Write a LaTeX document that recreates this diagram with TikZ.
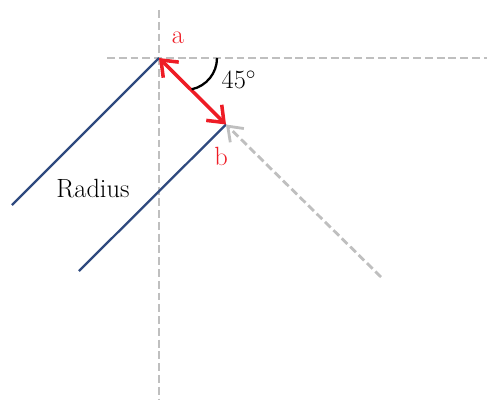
\documentclass[tikz,border=0pt]{standalone}
\usetikzlibrary{arrows.meta}
\definecolor{radblue}{HTML}{2F4A7F}
\definecolor{markred}{HTML}{EE1C25}
\definecolor{guidegray}{HTML}{BFBFBF}
\begin{document}
\begin{tikzpicture}[scale=1.0, >={Straight Barb[length=8pt, width=12.5pt]},
    guide/.style={guidegray, line width=1.6pt, dash pattern=on 4.5pt off 2.2pt},
    radline/.style={radblue, line width=1.3pt},
    gap/.style={markred, line width=2pt, <->},
    lbl/.style={font=\fontsize{15}{18}\selectfont}]
  \useasboundingbox (-3.18, 1.16) rectangle (6.56, -6.84);

  \coordinate (A) at (0, 0);
  \coordinate (B) at (1.34, -1.33);
  \coordinate (A1) at (-2.94, -2.94);
  \coordinate (B1) at (-1.6, -4.26);
  \coordinate (Top) at (0, 0.96);
  \coordinate (Bot) at (0, -6.84);
  \coordinate (Left) at (-1.04, 0);
  \coordinate (Right) at (6.56, 0);
  \coordinate (G) at (4.44, -4.38);

  % axes
  \draw[guide] (Top) -- (Bot);
  \draw[guide] (Left) -- (Right);

  \draw[radline] (A) -- (A1);
  \draw[radline] (B) -- (B1);

  \draw[guide, ->, >={Straight Barb[length=7.5pt, width=11pt]}] (G) -- (B);
  \draw[gap] (A) -- (B);

  \draw[line width=1.3pt] (1.16, 0) arc (0:-78:0.64);

  \node[lbl, text=markred] (la) at (0.38, 0.4) {a};
  \node[lbl, text=markred] (lb) at (1.24, -1.96) {b};
  \node[lbl] (ang) at (1.6, -0.44) {45$^\circ$};
  \node[lbl] (rad) at (-1.32, -2.62) {Radius};
\end{tikzpicture}
\end{document}
